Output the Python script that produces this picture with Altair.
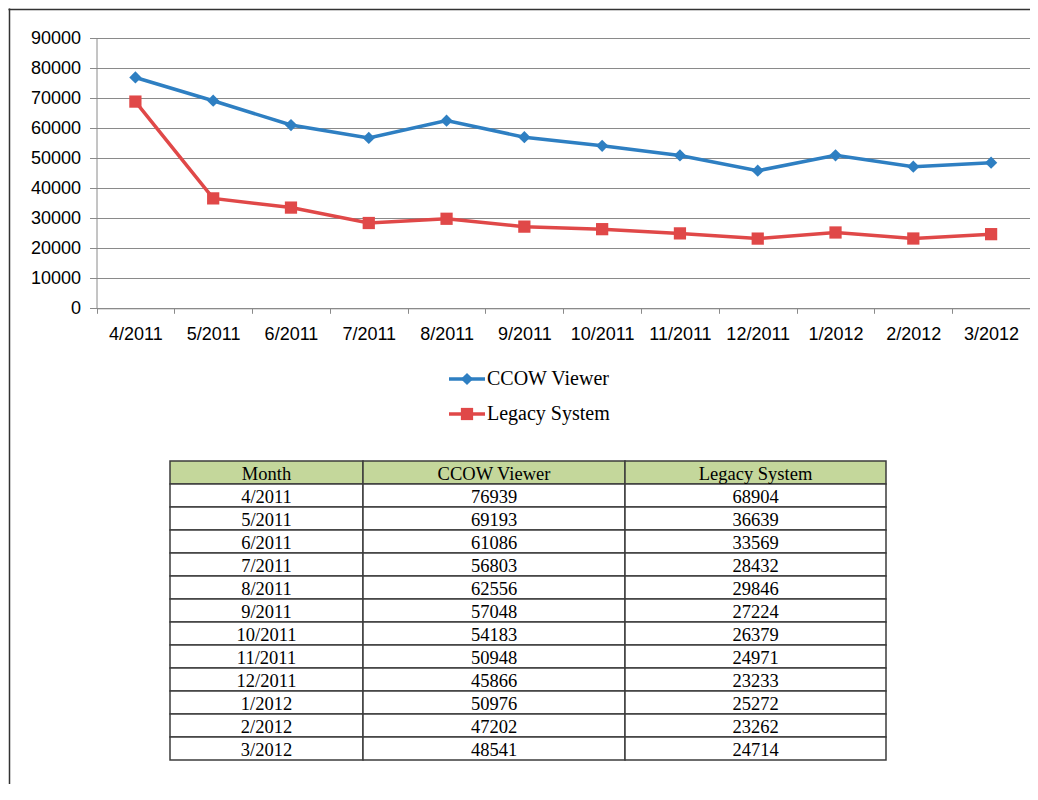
import altair as alt
import pandas as pd

# ---------------- data ----------------
months = ["4/2011", "5/2011", "6/2011", "7/2011", "8/2011", "9/2011",
          "10/2011", "11/2011", "12/2011", "1/2012", "2/2012", "3/2012"]
ccow = [76939, 69193, 61086, 56803, 62556, 57048, 54183, 50948, 45866, 50976, 47202, 48541]
legacy = [68904, 36639, 33569, 28432, 29846, 27224, 26379, 24971, 23233, 25272, 23262, 24714]
series_names = ["CCOW Viewer", "Legacy System"]
table_header = ["Month", "CCOW Viewer", "Legacy System"]
y_ticks = [0, 10000, 20000, 30000, 40000, 50000, 60000, 70000, 80000, 90000]

# ---------------- layout / style ----------------
W, H = 1022, 776
PLOT_X = [88.5, 1022]
PLOT_Y = [300.3, 30.3]
LEGEND_Y = [371, 406]
TABLE_X = [162, 878]
TABLE_Y = [453, 752]
col_widths = [193, 262, 261]
SANS = "Liberation Sans"
SERIF = "Liberation Serif"
GRAY = "#8a8a8a"
BORDER = "#3c3c3c"
HEADER_FILL = "#C4D79B"
colors = ["#2E7FC2", "#E04848"]
shapes = ["diamond", "square"]

# ---------------- tables ----------------
long_rows = []
for i, m in enumerate(months):
    long_rows.append({"month": m, "series": series_names[0], "value": ccow[i]})
    long_rows.append({"month": m, "series": series_names[1], "value": legacy[i]})
long_df = pd.DataFrame(long_rows)

leg_df = pd.DataFrame({"series": series_names})

edges = [0]
for w in col_widths:
    edges.append(edges[-1] + w)
cells = []
rows_text = [table_header] + [[months[i], str(ccow[i]), str(legacy[i])] for i in range(len(months))]
for r, row in enumerate(rows_text):
    for c, label in enumerate(row):
        cells.append({
            "row": r, "x0": edges[c], "x1": edges[c + 1],
            "xc": (edges[c] + edges[c + 1]) / 2, "label": label,
            "fill": HEADER_FILL if r == 0 else "#ffffff",
        })
cells_df = pd.DataFrame(cells)

# ---------------- plot ----------------
x_enc = alt.X(
    "month:N", sort=months,
    scale=alt.Scale(type="band", domain=months, range=PLOT_X, paddingInner=0, paddingOuter=0),
    axis=alt.Axis(orient="bottom", offset=-(H - PLOT_Y[0]), title=None, labelAngle=0,
                  tickBand="extent", tickSize=5, labelPadding=12, labelFont=SANS,
                  labelFontSize=18, labelColor="#000", domainColor=GRAY, tickColor=GRAY,
                  grid=False, labelOverlap=False),
)
y_enc = alt.Y(
    "value:Q",
    scale=alt.Scale(domain=[0, 90000], range=PLOT_Y, nice=False, zero=True),
    axis=alt.Axis(orient="left", offset=-PLOT_X[0], values=y_ticks, format="d", title=None,
                  grid=True, gridColor=GRAY, gridWidth=1, tickSize=7, tickColor=GRAY,
                  domainColor=GRAY, labelPadding=9, labelFont=SANS, labelFontSize=18,
                  labelColor="#000"),
)
color_enc = alt.Color("series:N", scale=alt.Scale(domain=series_names, range=colors), legend=None)
shape_enc = alt.Shape("series:N", scale=alt.Scale(domain=series_names, range=shapes), legend=None)

line = alt.Chart(long_df).mark_line(strokeWidth=3.5).encode(x=x_enc, y=y_enc, color=color_enc)
pts = alt.Chart(long_df).mark_point(filled=True, size=150, opacity=1).encode(
    x=x_enc, y=y_enc, color=color_enc, shape=shape_enc)
plot = alt.layer(line, pts)

# ---------------- legend ----------------
ly = alt.Y("series:N", scale=alt.Scale(type="point", domain=series_names, range=LEGEND_Y, padding=0), axis=None)
leg_rule = alt.Chart(leg_df).mark_rule(strokeWidth=3.5).encode(
    x=alt.value(441), x2=alt.value(477), y=ly, color=color_enc)
leg_pt = alt.Chart(leg_df).mark_point(filled=True, size=150, opacity=1).encode(
    x=alt.value(459), y=ly, color=color_enc, shape=shape_enc)
leg_txt = alt.Chart(leg_df).mark_text(align="left", baseline="middle", font=SERIF, fontSize=20,
                                      color="#000").encode(x=alt.value(479), y=ly, text="series:N")
legend = alt.layer(leg_rule, leg_pt, leg_txt)

# ---------------- table ----------------
tx = alt.Scale(domain=[0, edges[-1]], range=TABLE_X, nice=False, zero=False)
ty = alt.Y("row:O", scale=alt.Scale(type="band", domain=list(range(len(rows_text))), range=TABLE_Y,
                                    paddingInner=0, paddingOuter=0), axis=None)
cell_rect = alt.Chart(cells_df).mark_rect(stroke=BORDER, strokeWidth=1.5).encode(
    x=alt.X("x0:Q", scale=tx, axis=None), x2="x1:Q", y=ty,
    fill=alt.Fill("fill:N", scale=None))
cell_txt = alt.Chart(cells_df).mark_text(font=SERIF, fontSize=18.5, baseline="middle", dy=1,
                                         color="#000").encode(
    x=alt.X("xc:Q", scale=tx, axis=None), y=ty, text="label:N")
table = alt.layer(cell_rect, cell_txt)

# ---------------- frame ----------------
frame_df = pd.DataFrame({"fx": [0], "fy": [0]})
frame = alt.Chart(frame_df).mark_point(opacity=0).encode(
    x=alt.X("fx:Q", scale=alt.Scale(domain=[0, 1]),
            axis=alt.Axis(orient="top", offset=-1, ticks=False, labels=False, grid=False,
                          domainColor="#333333", domainWidth=1.5, title=None)),
    y=alt.Y("fy:Q", scale=alt.Scale(domain=[0, 1]),
            axis=alt.Axis(orient="left", offset=-1, ticks=False, labels=False, grid=False,
                          domainColor="#333333", domainWidth=1.5, title=None)),
)

chart = alt.layer(plot, legend, table, frame).resolve_scale(
    x="independent", y="independent", color="independent", shape="independent"
).properties(
    width=W, height=H, padding=0, autosize=alt.AutoSizeParams(type="none"), background="white"
).configure_view(stroke=None)

chart.save("out.html", embed_options={"renderer": "svg", "actions": False})
